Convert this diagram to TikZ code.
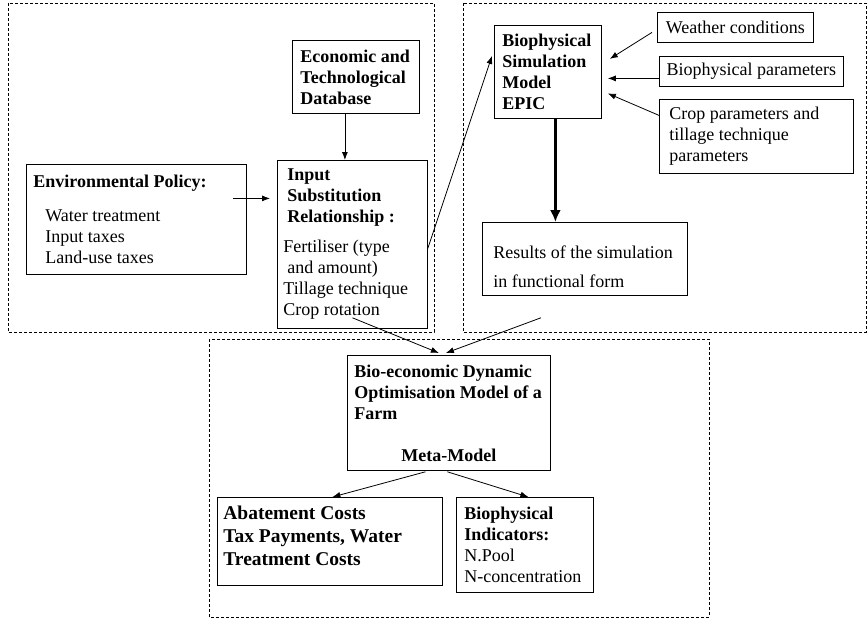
\documentclass[tikz,border=0pt]{standalone}
\usepackage{fontspec}
\setmainfont{Liberation Serif}
\usepackage{tikz}
\usetikzlibrary{arrows.meta,calc}
\tikzset{
 box/.style={draw, line width=0.8pt, anchor=north west, align=flush left, inner ysep=0pt},
 frame/.style={draw, line width=0.7pt, dash pattern=on 3pt off 2pt},
 link/.style={line width=0.8pt, -{Latex[length=8pt,width=6pt]}},
 thicklink/.style={line width=2.4pt, -{Latex[length=12pt,width=11pt]}},
}

\begin{document}
\begin{tikzpicture}[x=1pt,y=-1pt,font=\fontsize{18}{21}\selectfont]
\useasboundingbox (0,0) rectangle (868,619);
\draw[frame] (8,3) rectangle (434,332);
\draw[frame] (463,3) rectangle (866,332);
\draw[frame] (209,339) rectangle (709,617);
\node[box, text width=111pt, inner xsep=8pt, minimum height=73pt] (econ) at (292,40) {\textbf{Economic and}\\\textbf{Technological}\\\textbf{Database}};
\node[box, text width=206pt, inner xsep=7pt, minimum height=110pt] (env) at (26,164) {\textbf{Environmental Policy:}\\[13pt]\hspace*{12pt}Water treatment\\\hspace*{12pt}Input taxes\\\hspace*{12pt}Land-use taxes};
\node[box, text width=138pt, inner xsep=6pt, minimum height=168pt] (ip) at (277,160) {\hspace*{4pt}\textbf{Input}\\\hspace*{4pt}\textbf{Substitution}\\\hspace*{4pt}\textbf{Relationship :}\\[9pt]Fertiliser (type\\\hspace*{4pt}and amount)\\Tillage technique\\Crop rotation};
\node[box, text width=91pt, inner xsep=8pt, minimum height=93pt] (bio) at (494,25) {\textbf{Biophysical}\\\textbf{Simulation}\\\textbf{Model}\\\textbf{EPIC}};
\node[box, minimum width=156pt, minimum height=30pt, inner xsep=0pt] (weather) at (657,12) {Weather conditions};
\node[box, minimum width=184pt, minimum height=30pt, inner xsep=0pt] (bpar) at (659,56) {Biophysical parameters};
\node[box, text width=174pt, inner xsep=10pt, minimum height=74pt] (crop) at (659,99) {Crop parameters and\\tillage technique\\parameters};
\node[box, text width=183pt, inner xsep=11pt, minimum height=73pt] (res) at (482,222) {\rule{0pt}{29pt}Results of the simulation\\[8pt]in functional form};
\node[box, text width=189pt, inner xsep=7pt, minimum height=115pt] (meta) at (347,355) {\textbf{Bio-economic Dynamic}\\\textbf{Optimisation Model of a}\\\textbf{Farm}\\[21pt]\makebox[189pt]{\textbf{Meta-Model}}};
\node[box, text width=213pt, inner xsep=6pt, minimum height=88pt, font=\fontsize{19.5}{23}\selectfont] (abat) at (217,497) {\textbf{Abatement Costs}\\\textbf{Tax Payments, Water}\\\textbf{Treatment Costs}\\[-11pt]\mbox{}};
\node[box, text width=121pt, inner xsep=8pt, minimum height=95pt] (ind) at (456,497) {\textbf{Biophysical}\\\textbf{Indicators:}\\N.Pool\\N-concentration};
\draw[link] ($(env.east)+(-14,-21)$) -- ($(ip.west)+(-7,-46)$);
\draw[link] ([xshift=-11pt]econ.south) -- ([xshift=-11pt]econ.south |- ip.north);
\draw[link] ($(ip.east)+(0,4)$) -- ($(bio.west)+(-2,-16)$);
\draw[link] ($(ip.south)+(0,-11)$) -- ($(meta.north)+(-10,-2)$);
\draw[link] ($(res.south)+(-44,22)$) -- ($(meta.north)+(-3,-2)$);
\draw[thicklink] ([xshift=7.5pt]bio.south) -- ([xshift=7.5pt]bio.south |- res.north);
\draw[link] ($(weather.west)+(-5,5)$) -- ($(bio.east)+(8,-13)$);
\draw[link] ($(bpar.west)+(0,7)$) -- ($(bio.east)+(6,6.5)$);
\draw[link] ($(crop.west)+(0,-21)$) -- ($(bio.east)+(6,21.5)$);
\draw[link] ($(meta.south)+(-23.5,1)$) -- ($(abat.north)+(2.5,0)$);
\draw[link] ($(meta.south)+(-1.5,1)$) -- ($(ind.north)+(3.5,0)$);
\end{tikzpicture}
\end{document}
